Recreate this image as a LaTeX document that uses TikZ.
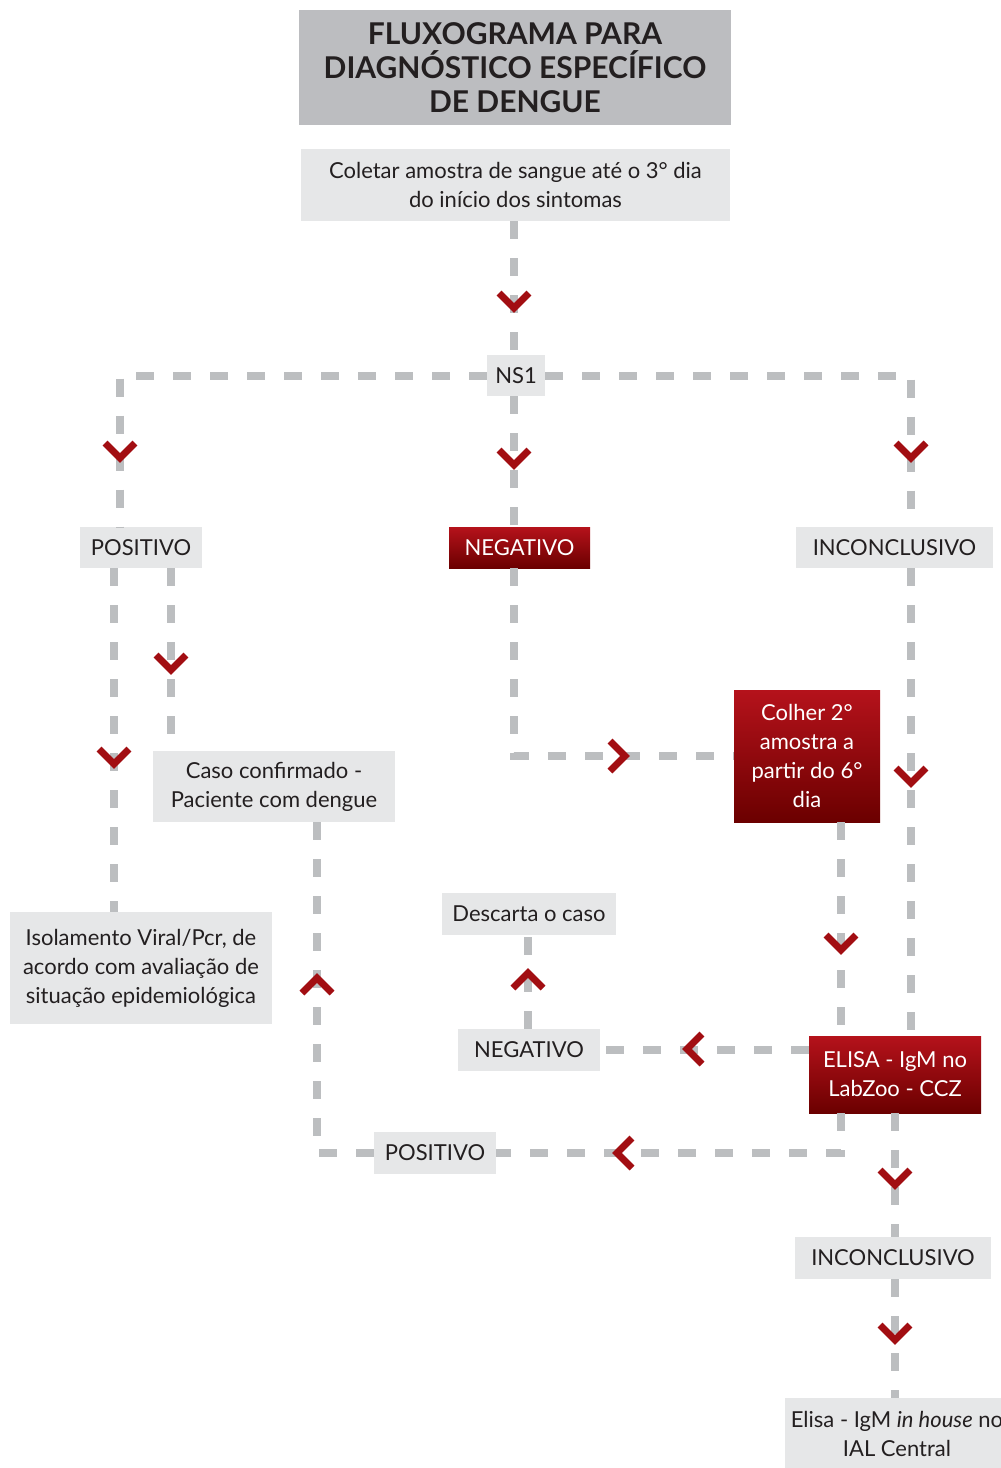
\documentclass[tikz,border=0pt]{standalone}
\usepackage{fontspec}
\setmainfont{Lato}
\definecolor{cinza}{RGB}{188,190,192}
\definecolor{cinzaclaro}{RGB}{230,231,232}
\definecolor{cinzatitulo}{RGB}{188,189,192}
\definecolor{vermelho}{RGB}{162,14,18}
\definecolor{vermtopo}{RGB}{181,18,27}
\definecolor{vermbase}{RGB}{107,0,0}
\definecolor{texto}{RGB}{35,31,32}

\begin{document}
\begin{tikzpicture}[
    x=1pt, y=-1pt,
    font=\fontsize{22}{29}\selectfont,
    text=texto,
    % Estilos
    box/.style={fill=cinzaclaro, align=center, inner sep=0pt},
    redbox/.style={box, top color=vermtopo, bottom color=vermbase, text=white},
    link/.style={draw=cinza, line width=8pt, dash pattern=on 18pt off 19pt},
    chev/.pic={\draw[vermelho, line width=7pt] (-15,-7) -- (0,8) -- (15,-7);}
]
\useasboundingbox (0,0) rectangle (1001,1468);
\clip (0,0) rectangle (1001,1468);

% --- CAIXAS ---
\node[box, fill=cinzatitulo, minimum width=432pt, minimum height=115pt,
      font=\fontsize{30}{34}\selectfont\bfseries] (titulo) at (515,67.5)
      {FLUXOGRAMA PARA\\DIAGNÓSTICO ESPECÍFICO\\DE DENGUE};
\node[box, minimum width=429pt, minimum height=72pt] (coletar) at (515.5,185)
      {Coletar amostra de sangue até o 3° dia\\do início dos sintomas};
\node[box, minimum width=58pt, minimum height=41pt] (ns1) at (516,375.5) {NS1};

\node[box, minimum width=122pt, minimum height=41pt] (pos1) at (141,547.5) {POSITIVO};
\node[redbox, minimum width=141pt, minimum height=41pt] (neg1) at (519.5,547.5) {NEGATIVO};
\node[box, minimum width=197pt, minimum height=41pt] (inc1) at (894.5,547.5) {INCONCLUSIVO};

\node[box, minimum width=242pt, minimum height=71pt] (caso) at (274,786.5)
      {Caso confirmado -\\Paciente com dengue};
\node[box, minimum width=262pt, minimum height=112pt] (isol) at (141,968)
      {Isolamento Viral/Pcr, de\\acordo com avaliação de\\situação epidemiológica};
\node[redbox, minimum width=146pt, minimum height=132pt] (colher) at (807,756)
      {Colher 2°\\amostra a\\partir do 6°\\dia};

\node[box, minimum width=174pt, minimum height=42pt] (descarta) at (529,914) {Descarta o caso};
\node[box, minimum width=142pt, minimum height=42pt] (neg2) at (529,1050) {NEGATIVO};
\node[redbox, minimum width=172pt, minimum height=77pt] (elisa) at (895,1074.5)
      {ELISA - IgM no\\LabZoo - CCZ};
\node[box, minimum width=122pt, minimum height=42pt] (pos2) at (435,1153) {POSITIVO};
\node[box, minimum width=196pt, minimum height=42pt] (inc2) at (893,1258) {INCONCLUSIVO};
\node[box, minimum width=224pt, minimum height=72pt] (final) at (897,1434)
      {Elisa - IgM \textit{in house} no\\IAL Central};

% eixos das linhas
\coordinate (eixo) at (514,0);
\coordinate (esq) at (120,0);
\coordinate (dir) at (911,0);
\coordinate (pesq) at (114,0);
\coordinate (pdir) at (171,0);
\coordinate (colx) at (841,0);
\coordinate (elx) at (895,0);
\coordinate (descx) at (528,0);
\coordinate (casox) at (317,0);

% --- LINHAS ---
\draw[link] (eixo |- coletar.south) -- (eixo |- ns1.north);
\draw[link] (ns1.west) -| (esq |- pos1.north);
\draw[link] (ns1.east) -| (dir |- inc1.north);
\draw[link] (eixo |- ns1.south) -- (eixo |- neg1.north);
\draw[link] (pesq |- pos1.south) -- (pesq |- isol.north);
\draw[link] (pdir |- pos1.south) -- (pdir |- caso.north);
\draw[link] (eixo |- neg1.south) |- (colher.west);
\draw[link] (dir |- inc1.south) -- (dir |- elisa.north);
\draw[link] (colx |- colher.south) -- (colx |- elisa.north);
\draw[link] (elisa.west |- neg2.east) -- (neg2.east);
\draw[link] (descx |- neg2.north) -- (descx |- descarta.south);
\draw[link] (colx |- elisa.south) |- (pos2.east);
\draw[link] (pos2.west) -| (casox |- caso.south);
\draw[link] (elx |- elisa.south) -- (elx |- inc2.north);
\draw[link] (elx |- inc2.south) -- (elx |- final.north);

% --- SETAS ---
\foreach \px/\py/\rot in {514/300/0, 120/450/0, 514/457/0, 911/450/0,
    171/662/0, 114/756/0, 617/756/90, 911/775/0, 841/942/0,
    317/986/180, 528/981/180, 695/1049/-90, 625/1153/-90,
    895/1177/0, 895/1332/0}
  \pic[rotate=\rot] at (\px,\py) {chev};

\end{tikzpicture}
\end{document}
